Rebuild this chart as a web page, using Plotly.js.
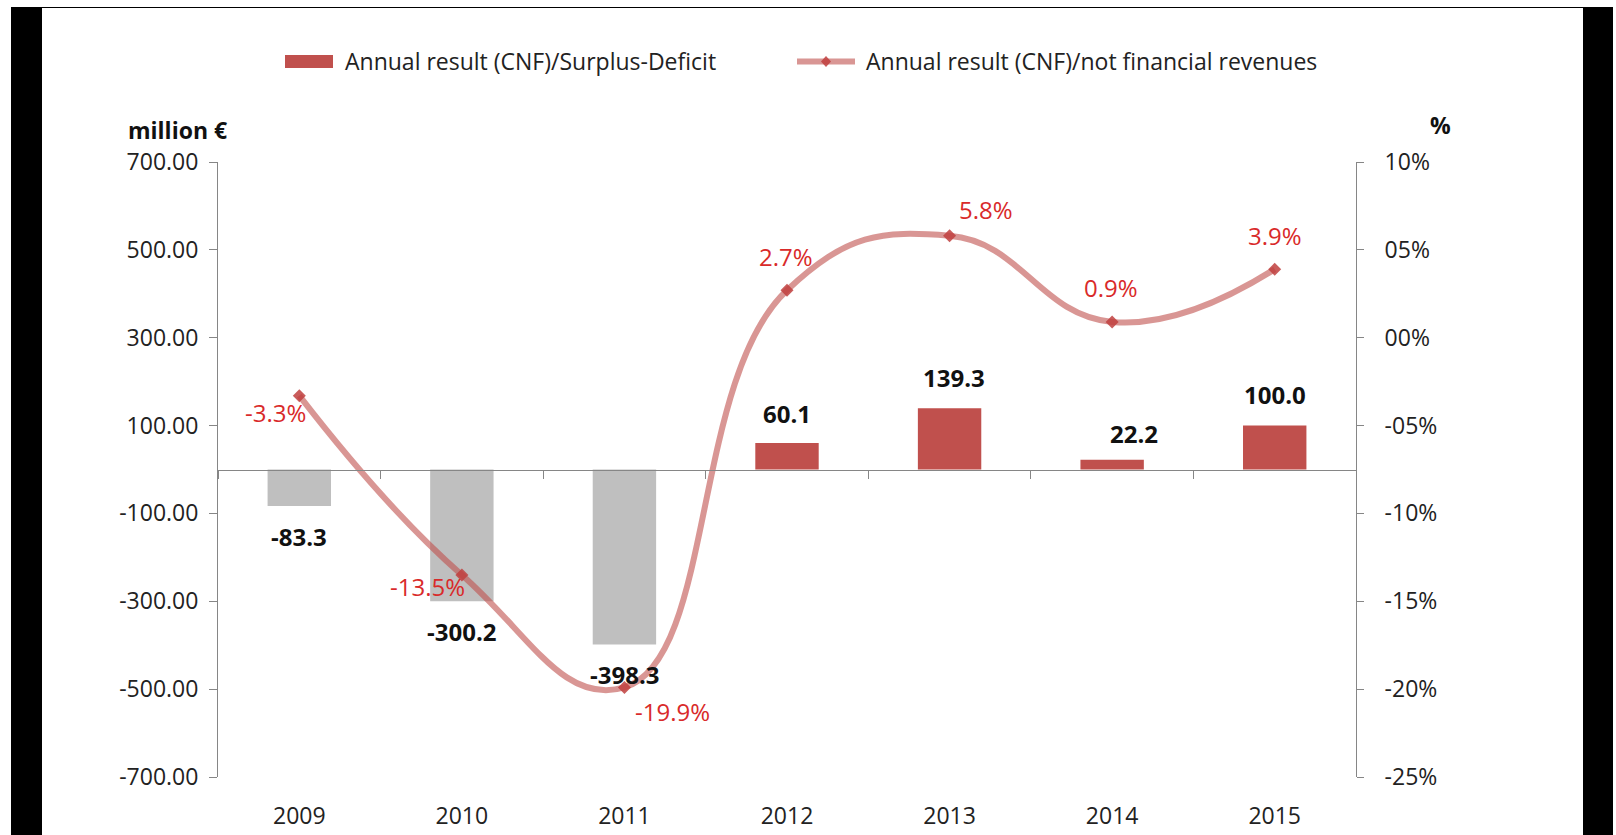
<!DOCTYPE html>
<html>
<head>
<meta charset="utf-8">
<script src="https://cdn.plot.ly/plotly-3.0.1.min.js"></script>
<style>
  html, body { margin: 0; padding: 0; background: #ffffff; }
  #chart { width: 1616px; height: 835px; }
  .frame { position: absolute; background: #000; z-index: 10; }
</style>
</head>
<body>
<div id="chart"></div>
<div class="frame" style="left:11px; top:7px; width:31px; height:828px;"></div>
<div class="frame" style="left:1583px; top:7px; width:30px; height:828px;"></div>
<div class="frame" style="left:11px; top:7px; width:1602px; height:1px;"></div>
<script>
// ---- data ----
const years = ['2009', '2010', '2011', '2012', '2013', '2014', '2015'];
const surplusDeficit = [-83.3, -300.2, -398.3, 60.1, 139.3, 22.2, 100.0];
const ratioPct = [-3.3, -13.5, -19.9, 2.7, 5.8, 0.9, 3.9];
const barLabels = ['-83.3', '-300.2', '-398.3', '60.1', '139.3', '22.2', '100.0'];
const ratioLabels = ['-3.3%', '-13.5%', '-19.9%', '2.7%', '5.8%', '0.9%', '3.9%'];
const leftTickVals = [700, 500, 300, 100, -100, -300, -500, -700];
const leftTickText = ['700.00', '500.00', '300.00', '100.00', '-100.00', '-300.00', '-500.00', '-700.00'];
const rightTickVals = [10, 5, 0, -5, -10, -15, -20, -25];
const rightTickText = ['10%', '05%', '00%', '-05%', '-10%', '-15%', '-20%', '-25%'];
const seriesBarName = 'Annual result (CNF)/Surplus-Deficit';
const seriesLineName = 'Annual result (CNF)/not financial revenues';
const leftAxisTitle = 'million €';
const rightAxisTitle = '%';

// ---- style / layout helpers ----
const FONT = 'Open Sans, Noto Sans, sans-serif';
const RED = '#C0504D';
const GRAY = '#BFBFBF';
const LABEL_RED = '#D92A2A';
const AXIS_GRAY = '#868686';
const M = {l: 218, r: 260, t: 162, b: 58};
const W = 1616, H = 835;
const PW = W - M.l - M.r, PH = H - M.t - M.b;
const xp = px => (px - M.l) / PW;
const yp = py => (H - M.b - py) / PH;

// label offsets in pixels [xshift, yshift]
const barLabelShift = [[0, -30], [0, -30], [0, -30], [0, 30], [4, 31], [22, 26], [0, 31]];
const ratioLabelShift = [[-24, -17], [-34, -12], [48, -24], [-1, 34], [36, 26], [-1, 34], [0, 34]];

const barTrace = {
  type: 'bar',
  x: years,
  y: surplusDeficit,
  xaxis: 'x', yaxis: 'y',
  marker: {color: surplusDeficit.map(v => v < 0 ? GRAY : RED)},
  width: 0.39,
  name: seriesBarName,
  showlegend: false,
  hoverinfo: 'skip'
};

const lineTrace = {
  type: 'scatter',
  mode: 'lines+markers',
  x: years,
  y: ratioPct,
  xaxis: 'x2', yaxis: 'y2',
  line: {color: 'rgba(192,80,77,0.6)', width: 6, shape: 'spline', smoothing: 1.3},
  marker: {symbol: 'diamond', size: 10, color: 'rgba(192,64,62,0.85)'},
  name: seriesLineName,
  showlegend: false,
  hoverinfo: 'skip'
};

const annotations = [];
years.forEach((yr, i) => {
  annotations.push({
    xref: 'x', yref: 'y', x: i, y: surplusDeficit[i],
    text: '<b>' + barLabels[i] + '</b>', showarrow: false,
    xanchor: 'center', yanchor: 'middle',
    xshift: barLabelShift[i][0], yshift: barLabelShift[i][1],
    font: {family: FONT, size: 24, color: '#111'}
  });
  annotations.push({
    xref: 'x2', yref: 'y2', x: i, y: ratioPct[i],
    text: ratioLabels[i], showarrow: false,
    xanchor: 'center', yanchor: 'middle',
    xshift: ratioLabelShift[i][0], yshift: ratioLabelShift[i][1],
    font: {family: FONT, size: 24, color: LABEL_RED}
  });
});
// axis titles
annotations.push({xref: 'paper', yref: 'paper', x: xp(177), y: yp(130), text: '<b>' + leftAxisTitle + '</b>',
  showarrow: false, xanchor: 'center', yanchor: 'middle', font: {family: FONT, size: 23, color: '#111'}});
annotations.push({xref: 'paper', yref: 'paper', x: xp(1440), y: yp(125), text: '<b>' + rightAxisTitle + '</b>',
  showarrow: false, xanchor: 'center', yanchor: 'middle', font: {family: FONT, size: 23, color: '#111'}});
// legend text
annotations.push({xref: 'paper', yref: 'paper', x: xp(343), y: yp(61), text: seriesBarName,
  showarrow: false, xanchor: 'left', yanchor: 'middle', font: {family: FONT, size: 23, color: '#222'}});
annotations.push({xref: 'paper', yref: 'paper', x: xp(864), y: yp(61), text: seriesLineName,
  showarrow: false, xanchor: 'left', yanchor: 'middle', font: {family: FONT, size: 23, color: '#222'}});

const shapes = [
  // bar legend swatch
  {type: 'rect', xref: 'paper', yref: 'paper', x0: xp(285), x1: xp(333), y0: yp(55), y1: yp(68),
   fillcolor: RED, line: {width: 0}},
  // line legend swatch
  {type: 'line', xref: 'paper', yref: 'paper', x0: xp(797), x1: xp(855), y0: yp(61.5), y1: yp(61.5),
   line: {color: 'rgba(192,80,77,0.6)', width: 6}},
  {type: 'path', xref: 'paper', yref: 'paper',
   path: `M ${xp(826)},${yp(56)} L ${xp(831)},${yp(61.5)} L ${xp(826)},${yp(67)} L ${xp(821)},${yp(61.5)} Z`,
   fillcolor: 'rgba(192,64,62,0.85)', line: {width: 0}}
];

const layout = {
  width: W, height: H,
  margin: M,
  paper_bgcolor: '#ffffff',
  plot_bgcolor: '#ffffff',
  showlegend: false,
  hovermode: false,
  font: {family: FONT, size: 23, color: '#222'},
  xaxis: {
    type: 'category', range: [-0.5, 6.5], anchor: 'y',
    showline: false, showgrid: false, zeroline: false, ticks: '',
    ticklabelstandoff: 23,
    tickfont: {family: FONT, size: 23, color: '#222'}
  },
  xaxis2: {
    type: 'category', range: [-0.5, 6.5], overlaying: 'x', anchor: 'free', position: 0.5,
    showline: true, linecolor: AXIS_GRAY, linewidth: 1.5,
    ticks: 'outside', tickson: 'boundaries', ticklen: 8, tickcolor: AXIS_GRAY, tickwidth: 1,
    showticklabels: false, showgrid: false, zeroline: false
  },
  yaxis: {
    range: [-700, 700], tickvals: leftTickVals, ticktext: leftTickText,
    showline: true, linecolor: AXIS_GRAY, linewidth: 1,
    ticks: 'outside', ticklen: 8, tickcolor: AXIS_GRAY,
    showgrid: false, zeroline: false,
    ticklabelstandoff: 6,
    tickfont: {family: FONT, size: 23, color: '#222'}
  },
  yaxis2: {
    range: [-25, 10], tickvals: rightTickVals, ticktext: rightTickText,
    overlaying: 'y', side: 'right', anchor: 'free', position: 1,
    showline: true, linecolor: AXIS_GRAY, linewidth: 1,
    ticks: 'outside', ticklen: 7, tickcolor: AXIS_GRAY,
    showgrid: false, zeroline: false,
    ticklabelstandoff: 16,
    tickfont: {family: FONT, size: 23, color: '#222'}
  },
  annotations: annotations,
  shapes: shapes
};

Plotly.newPlot('chart', [barTrace, lineTrace], layout, {staticPlot: true, displayModeBar: false});
</script>
</body>
</html>
